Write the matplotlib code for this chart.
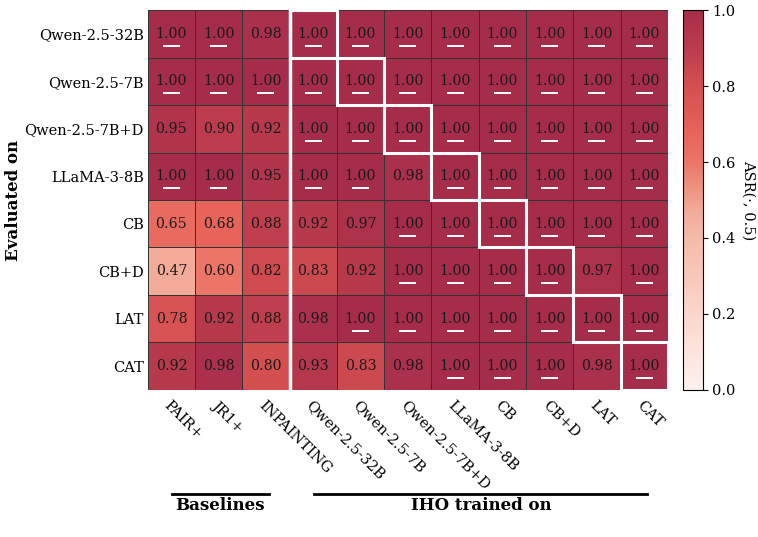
import numpy as np
import matplotlib
matplotlib.use("Agg")
import matplotlib.pyplot as plt
from matplotlib.colors import LinearSegmentedColormap
from matplotlib.patches import Rectangle

plt.rcParams['font.family'] = ['DejaVu Serif']

eval_on = ["Qwen-2.5-32B", "Qwen-2.5-7B", "Qwen-2.5-7B+D", "LLaMA-3-8B",
           "CB", "CB+D", "LAT", "CAT"]
baselines = ["PAIR+", "JR1+", "INPAINTING"]
iho_trained = ["Qwen-2.5-32B", "Qwen-2.5-7B", "Qwen-2.5-7B+D", "LLaMA-3-8B",
               "CB", "CB+D", "LAT", "CAT"]

base_vals = [
    [1.00, 1.00, 0.98],
    [1.00, 1.00, 1.00],
    [0.95, 0.90, 0.92],
    [1.00, 1.00, 0.95],
    [0.65, 0.68, 0.88],
    [0.47, 0.60, 0.82],
    [0.78, 0.92, 0.88],
    [0.92, 0.98, 0.80],
]
iho_vals = [
    [1.00, 1.00, 1.00, 1.00, 1.00, 1.00, 1.00, 1.00],
    [1.00, 1.00, 1.00, 1.00, 1.00, 1.00, 1.00, 1.00],
    [1.00, 1.00, 1.00, 1.00, 1.00, 1.00, 1.00, 1.00],
    [1.00, 1.00, 0.98, 1.00, 1.00, 1.00, 1.00, 1.00],
    [0.92, 0.97, 1.00, 1.00, 1.00, 1.00, 1.00, 1.00],
    [0.83, 0.92, 1.00, 1.00, 1.00, 1.00, 0.97, 1.00],
    [0.98, 1.00, 1.00, 1.00, 1.00, 1.00, 1.00, 1.00],
    [0.93, 0.83, 0.98, 1.00, 1.00, 1.00, 0.98, 1.00],
]

data = np.hstack([np.array(base_vals), np.array(iho_vals)])
cols = baselines + iho_trained
nb = len(baselines)

cmap = LinearSegmentedColormap.from_list(
    "asr", [(0.0, "#fdf1ee"), (0.2, "#fad6cb"), (0.4, "#f5bba9"),
            (0.47, "#f2ab98"), (0.6, "#eb7668"), (0.68, "#e8635a"),
            (0.8, "#d44f50"), (0.9, "#bc3c4d"), (1.0, "#a62d4a")])

fig = plt.figure(figsize=(7.58, 5.37), dpi=100)
ax = fig.add_axes([0.195, 0.274, 0.686, 0.707])
cax = fig.add_axes([0.901, 0.274, 0.026, 0.707])

mesh = ax.pcolormesh(data, cmap=cmap, vmin=0, vmax=1,
                     edgecolors="#333333", linewidth=0.7)
ax.set_xlim(0, data.shape[1])
ax.set_ylim(data.shape[0], 0)

for i in range(data.shape[0]):
    for j in range(data.shape[1]):
        v = data[i, j]
        ax.text(j + 0.5, i + 0.5, f"{v:.2f}", ha="center", va="center",
                fontsize=10.2, color="#1a1a1a")
        if v >= 0.995:
            ax.plot([j + 0.32, j + 0.68], [i + 0.75, i + 0.75],
                    color="white", lw=1.4, solid_capstyle="butt")

# separator between baselines and IHO
ax.plot([nb, nb], [0, data.shape[0]], color="white", lw=2.5, clip_on=False)
# diagonal boxes
for k in range(len(iho_trained)):
    ax.add_patch(Rectangle((nb + k, k), 1, 1, fill=False,
                           edgecolor="white", lw=2.2, zorder=5))

ax.set_xticks(np.arange(len(cols)) + 0.5)
ax.set_xticklabels(cols, rotation=-45, ha="left", rotation_mode="anchor",
                   fontsize=10.5)
ax.set_yticks(np.arange(len(eval_on)) + 0.5)
ax.set_yticklabels(eval_on, fontsize=10.5)
ax.tick_params(length=0, pad=3)
ax.tick_params(axis="x", pad=6)
for s in ax.spines.values():
    s.set_visible(False)
fig.text(14 / 758, 1 - 200 / 537, "Evaluated on", rotation=90,
         ha="center", va="center", fontsize=12, fontweight="bold")

cb = fig.colorbar(mesh, cax=cax)
cb.set_ticks([0.0, 0.2, 0.4, 0.6, 0.8, 1.0])
cb.ax.tick_params(labelsize=10.5)
cb.set_label("ASR(·, 0.5)", rotation=270, labelpad=14, fontsize=10.5)

# group labels below the x axis
fig.add_artist(plt.Line2D([172 / 758, 269 / 758], [1 - 494 / 537] * 2,
                          color="black", lw=2))
fig.add_artist(plt.Line2D([314 / 758, 647 / 758], [1 - 494 / 537] * 2,
                          color="black", lw=2))
fig.text(220 / 758, 1 - 506 / 537, "Baselines", ha="center", va="center",
         fontsize=12, fontweight="bold")
fig.text(481 / 758, 1 - 506 / 537, "IHO trained on", ha="center", va="center",
         fontsize=12, fontweight="bold")

fig.savefig("out.png", dpi=100)
